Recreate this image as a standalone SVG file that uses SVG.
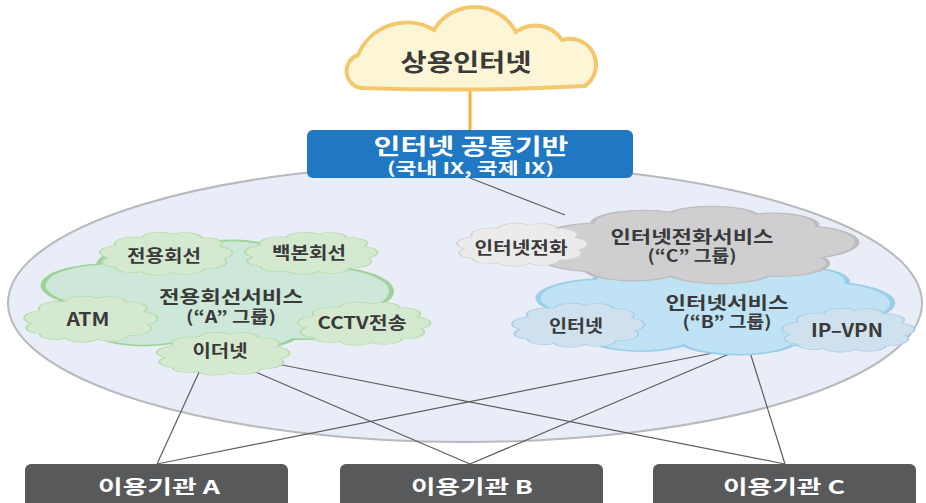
<svg xmlns="http://www.w3.org/2000/svg" xmlns:xlink="http://www.w3.org/1999/xlink" width="926" height="503" viewBox="0 0 926 503">
<defs>
<style>
text{font-family:"Noto Sans CJK KR","Noto Sans",sans-serif;font-weight:bold;text-anchor:middle;fill:#3a3a3a}
.conn{stroke:#5e5e60;stroke-width:1.2;fill:none}
.cl{vector-effect:non-scaling-stroke;stroke-width:1.5}
.gA{fill:#cde8d8;stroke:#9dd397}
.gs{fill:#d5e9d1;stroke:#b3dbab}
.cC{fill:#cfcfd1;stroke:#bdbdbf}
.cs{fill:#ebebeb;stroke:#d3d3d3}
.bB{fill:#bfe3f4;stroke:#9acde8}
.bs{fill:#cfe1ee;stroke:#a9cce6}
.org{fill:#58595b}
.org text{fill:#ffffff;font-size:19px}
</style>
<path id="cloud" d="M6 60 A16 16 0 0 1 12 32 A16 16 0 0 1 32 12 A14 14 0 0 1 56 5 A13 13 0 0 1 78 13 A14 14 0 0 1 92 34 A16 16 0 0 1 95 62 A16 16 0 0 1 80 86 A14 14 0 0 1 56 94 A13.5 13.5 0 0 1 32 92 A12.5 12.5 0 0 1 12 82 A12.8 12.8 0 0 1 6 60 Z"/>
<path id="bigcloud" d="M3 55 A19.5 19.5 0 0 1 14 22 A17 17 0 0 1 40 8 A15.7 15.7 0 0 1 68 10 A15 15 0 0 1 88 26 A22.4 22.4 0 0 1 90 66 A16.8 16.8 0 0 1 72 90 A18 18 0 0 1 40 90 A16 16 0 0 1 12 84 A17 17 0 0 1 3 55 Z"/>
</defs>
<rect width="926" height="503" fill="#ffffff"/>
<ellipse id="backbone-area" cx="465" cy="303" rx="457" ry="139" fill="#e9edf7" stroke="#b8b9bc" stroke-width="2"/>
<g id="connectors">
<line x1="470" y1="89" x2="470" y2="131" stroke="#f2b233" stroke-width="3"/>
<line class="conn" x1="470" y1="178" x2="565" y2="215"/>
<line class="conn" x1="200" y1="370" x2="157" y2="464"/>
<line class="conn" x1="253" y1="371" x2="470" y2="464"/>
<line class="conn" x1="272" y1="363" x2="785" y2="464"/>
<line class="conn" x1="748" y1="346" x2="157" y2="464"/>
<line class="conn" x1="748" y1="346" x2="470" y2="464"/>
<line class="conn" x1="748" y1="346" x2="785" y2="464"/>
</g>
<g id="group-a">
<use xlink:href="#bigcloud" class="cl gA" transform="translate(52,240) scale(3.35,1.1)"/>
<text font-size="17.5"><tspan x="231" y="303" textLength="144" lengthAdjust="spacingAndGlyphs">전용회선서비스</tspan><tspan x="231" y="323" font-size="16.5" textLength="90" lengthAdjust="spacingAndGlyphs">(“A” 그룹)</tspan></text>
</g>
<g id="leased-line">
<use xlink:href="#cloud" class="cl gs" transform="translate(100,232) scale(1.3,0.43)"/>
<text x="164" y="262" font-size="16.5" textLength="74" lengthAdjust="spacingAndGlyphs">전용회선</text>
</g>
<g id="backbone-line">
<use xlink:href="#cloud" class="cl gs" transform="translate(245,232) scale(1.3,0.42)"/>
<text x="309" y="259" font-size="16.5" textLength="74" lengthAdjust="spacingAndGlyphs">백본회선</text>
</g>
<g id="atm">
<use xlink:href="#cloud" class="cl gs" transform="translate(24,296) scale(1.31,0.46)"/>
<text x="88" y="326" font-size="18" textLength="43" lengthAdjust="spacingAndGlyphs">ATM</text>
</g>
<g id="cctv">
<use xlink:href="#cloud" class="cl gs" transform="translate(298,302) scale(1.3,0.43)"/>
<text x="362" y="329" font-size="17" textLength="89" lengthAdjust="spacingAndGlyphs">CCTV전송</text>
</g>
<g id="ethernet">
<use xlink:href="#cloud" class="cl gs" transform="translate(157,332) scale(1.3,0.43)"/>
<text x="220" y="357" font-size="16.5" textLength="55" lengthAdjust="spacingAndGlyphs">이더넷</text>
</g>
<g id="group-b">
<use xlink:href="#bigcloud" class="cl bB" transform="translate(547,258) scale(3.41,0.97)"/>
<text font-size="17.5"><tspan x="727" y="309" textLength="123" lengthAdjust="spacingAndGlyphs">인터넷서비스</tspan><tspan x="727" y="328" font-size="16.5" textLength="89" lengthAdjust="spacingAndGlyphs">(“B” 그룹)</tspan></text>
</g>
<g id="group-c">
<use xlink:href="#bigcloud" class="cl cC" transform="translate(550,206) scale(3.03,0.78)"/>
<text font-size="17.5"><tspan x="692" y="243" textLength="163" lengthAdjust="spacingAndGlyphs">인터넷전화서비스</tspan><tspan x="692" y="262" font-size="16.5" textLength="89" lengthAdjust="spacingAndGlyphs">(“C” 그룹)</tspan></text>
</g>
<g id="internet-phone">
<use xlink:href="#cloud" class="cl cs" transform="translate(457,223) scale(1.28,0.43)"/>
<text x="521" y="254" font-size="16.5" textLength="93" lengthAdjust="spacingAndGlyphs">인터넷전화</text>
</g>
<g id="internet">
<use xlink:href="#cloud" class="cl bs" transform="translate(512,303) scale(1.3,0.44)"/>
<text x="576" y="332" font-size="16.5" textLength="54" lengthAdjust="spacingAndGlyphs">인터넷</text>
</g>
<g id="ip-vpn">
<use xlink:href="#cloud" class="cl bs" transform="translate(782,308) scale(1.3,0.44)"/>
<text x="847" y="337" font-size="18" textLength="72" lengthAdjust="spacingAndGlyphs">IP–VPN</text>
</g>
<g id="commercial-internet">
<path d="M362 88 A17 17 0 0 1 358 55 A53 53 0 0 1 434 30 A47 47 0 0 1 516 32 A32 32 0 0 1 562 40 A26 26 0 0 1 585 86 Q474 92 362 88 Z" fill="#fcf6d7" stroke="#f3c76c" stroke-width="4"/>
<text x="466" y="71" font-size="24" textLength="131" lengthAdjust="spacingAndGlyphs">상용인터넷</text>
</g>
<g id="common-base">
<rect x="307" y="130" width="326" height="48" rx="6" fill="#1f78c1"/>
<text font-size="22" style="fill:#fff"><tspan x="471" y="154" textLength="195" lengthAdjust="spacingAndGlyphs">인터넷 공통기반</tspan><tspan x="470.5" y="174" font-size="16" textLength="167" lengthAdjust="spacingAndGlyphs">(국내 IX, 국제 IX)</tspan></text>
</g>
<g id="org-a" class="org">
<rect x="25" y="464" width="263" height="50" rx="6"/>
<text x="159" y="494" textLength="122" lengthAdjust="spacingAndGlyphs">이용기관 A</text>
</g>
<g id="org-b" class="org">
<rect x="340" y="464" width="263" height="50" rx="6"/>
<text x="472" y="494" textLength="122" lengthAdjust="spacingAndGlyphs">이용기관 B</text>
</g>
<g id="org-c" class="org">
<rect x="653" y="464" width="263" height="50" rx="6"/>
<text x="784" y="494" textLength="122" lengthAdjust="spacingAndGlyphs">이용기관 C</text>
</g>
</svg>
